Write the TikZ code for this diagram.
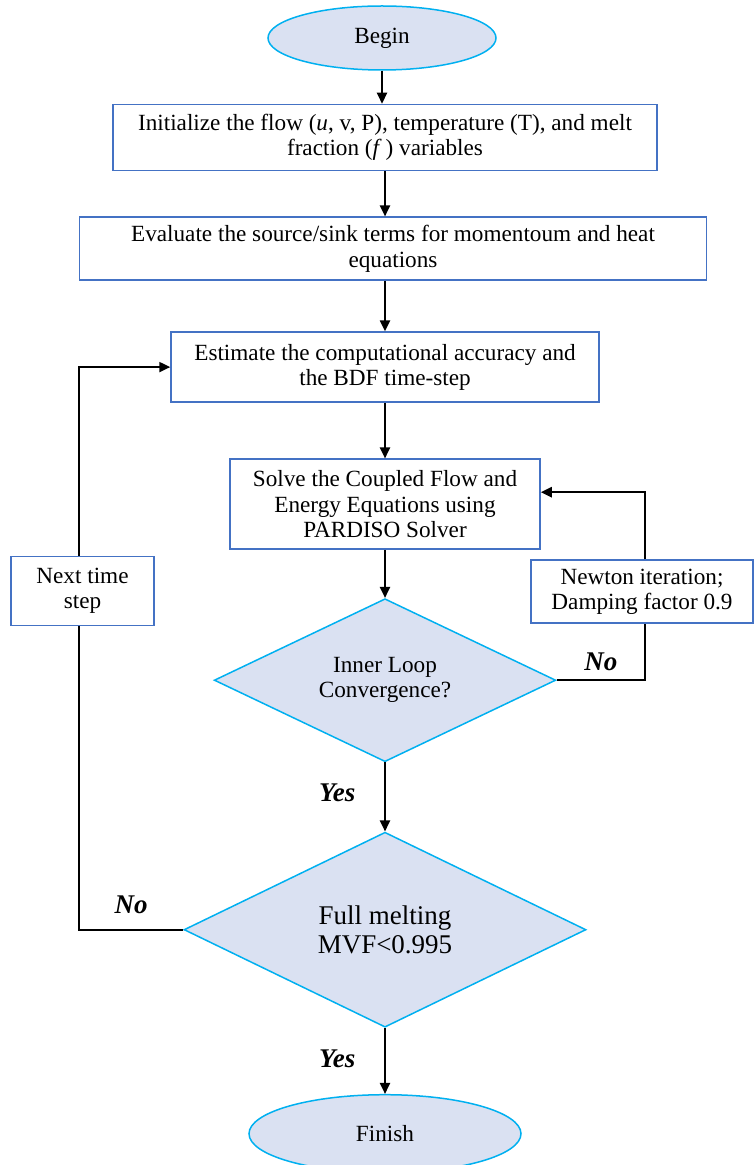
\documentclass[tikz,border=0pt]{standalone}
\usepackage{fontspec}
\setmainfont{Liberation Serif}
\usepackage{tikz}
\usetikzlibrary{arrows.meta, positioning, shapes.geometric}
\usepackage{xcolor}
\definecolor{boxblue}{HTML}{4472C4}
\definecolor{skyline}{HTML}{00B0F0}
\definecolor{paleblue}{HTML}{DAE1F2}

\begin{document}
\begin{tikzpicture}[
    node distance = 24pt,
    stepbox/.style = {
        rectangle, draw=boxblue, line width=0.75pt,
        align     = center,
        inner sep = 2pt,
        font      = \fontsize{11.6}{12.65}\selectfont
    },
    terminal/.style = {
        ellipse, draw=skyline, line width=0.75pt, fill=paleblue,
        inner sep = 0pt,
        font      = \fontsize{11.6}{12.65}\selectfont
    },
    decision/.style = {
        diamond, aspect=2, draw=skyline, line width=0.75pt, fill=paleblue,
        align = center, inner sep = 0pt
    },
    answer/.style = { font=\fontsize{13.5}{15}\selectfont\bfseries\itshape },
    mainarrow/.style = { ->, >={Triangle[length=5.5pt, width=5pt]}, line width=1.1pt },
    loopline/.style  = { line width=1.1pt },
]

%% ── Frame ────────────────────────────────────────────────────────────────
\useasboundingbox (0,0) rectangle (377.5pt,-582.5pt);

%% ── Main column ──────────────────────────────────────────────────────────
\node[terminal, minimum width=114pt, minimum height=32pt]
    (begin) at (191pt,-19pt) {Begin};

\node[stepbox, minimum width=272pt, minimum height=33pt,
      below=16.5pt of begin, xshift=1.5pt] (init) {%
    Initialize the flow (\textit{u}, v, P), temperature (T), and melt\\
    fraction (\textit{f}\,) variables
};

\node[stepbox, minimum width=313.5pt, minimum height=31.5pt,
      below=22.6pt of init, xshift=4pt] (evalst) {%
    Evaluate the source/sink terms for momentoum and heat\\
    equations
};

\node[stepbox, minimum width=214pt, minimum height=35pt,
      below=25.2pt of evalst, xshift=-4pt] (estim) {%
    Estimate the computational accuracy and\\
    the BDF time-step
};

\node[stepbox, minimum width=155pt, minimum height=45pt,
      below=27.8pt of estim] (solve) {%
    Solve the Coupled Flow and\\
    Energy Equations using\\
    PARDISO Solver
};

\node[decision, minimum width=170.8pt, minimum height=81.5pt,
      font=\fontsize{11.6}{12.65}\selectfont,
      below=24pt of solve] (inner) {%
    Inner Loop\\Convergence?
};

\node[decision, minimum width=201pt, minimum height=97.5pt,
      font=\fontsize{13.5}{14.4}\selectfont,
      below=34.5pt of inner] (full) {%
    Full melting\\MVF<0.995
};

\node[terminal, minimum width=136pt, minimum height=39pt,
      below=33pt of full] (finish) {Finish};

%% ── Side boxes ───────────────────────────────────────────────────────────
\node[stepbox, minimum width=71.5pt, minimum height=34.3pt]
    (nextstep) at (41.25pt,-295.5pt) {Next time\\step};

\node[stepbox, minimum width=111pt, minimum height=31.5pt]
    (newton) at (321pt,-295.75pt) {Newton iteration;\\Damping factor 0.9};

%% ── Main arrows ──────────────────────────────────────────────────────────
\draw[mainarrow] (begin.south) -- (begin.south |- init.north);
\draw[mainarrow] (init.south) -- (init.south |- evalst.north);
\draw[mainarrow] (estim.north |- evalst.south) -- (estim.north);
\draw[mainarrow] (estim.south) -- (solve.north);
\draw[mainarrow] (solve.south) -- (inner.north);
\draw[mainarrow] (inner.south) -- (full.north)
    node[midway, left=11pt, yshift=2pt, answer] {Yes};
\draw[mainarrow] (full.south) -- (finish.north)
    node[midway, left=11pt, yshift=1pt, answer] {Yes};

%% ── Inner loop (Newton) ──────────────────────────────────────────────────
\draw[loopline] (inner.east) -| node[pos=0.25, above=1pt, answer] {No}
    ([xshift=1.5pt] newton.south);
\draw[mainarrow] ([xshift=1.5pt] newton.north) |- ([yshift=6pt] solve.east);

%% ── Outer loop (time step) ───────────────────────────────────────────────
\draw[loopline] (full.west) -| node[pos=0.25, above=4pt, answer] {No}
    ([xshift=-1.75pt] nextstep.south);
\draw[mainarrow] ([xshift=-1.75pt] nextstep.north) |- (estim.west);

\end{tikzpicture}
\end{document}
